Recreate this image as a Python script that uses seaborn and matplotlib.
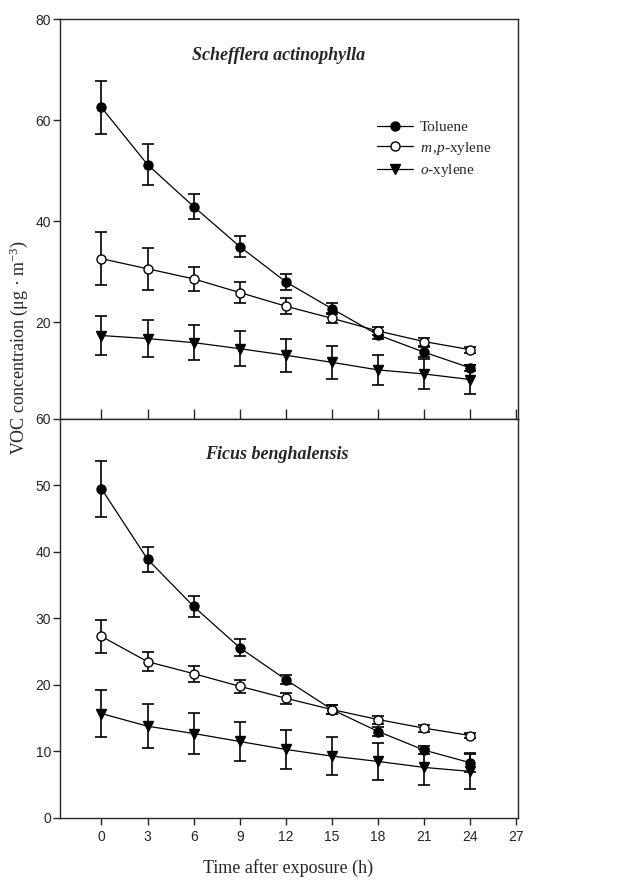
import numpy as np
import pandas as pd
import matplotlib
matplotlib.use("Agg")
import matplotlib.pyplot as plt
import seaborn as sns

# ---- data ----
hours = [0, 3, 6, 9, 12, 15, 18, 21, 24]

# Schefflera actinophylla (top panel)
sa_toluene = [62.5, 51.2, 42.9, 35.0, 28.0, 22.7, 17.5, 14.1, 11.0]
sa_toluene_err = [5.3, 4.1, 2.5, 2.0, 1.6, 1.1, 0.8, 1.0, 0.6]
sa_mp = [32.6, 30.6, 28.6, 25.9, 23.2, 20.8, 18.3, 16.2, 14.6]
sa_mp_err = [5.3, 4.1, 2.4, 2.0, 1.6, 1.0, 0.8, 0.8, 0.6]
sa_o = [17.4, 16.8, 16.0, 14.8, 13.5, 12.1, 10.6, 9.8, 8.7]
sa_o_err = [3.8, 3.6, 3.5, 3.4, 3.3, 3.2, 3.0, 2.9, 2.8]

# Ficus benghalensis (bottom panel)
fb_toluene = [49.5, 38.9, 31.8, 25.6, 20.8, 16.3, 13.0, 10.2, 8.3]
fb_toluene_err = [4.2, 1.9, 1.6, 1.3, 0.7, 0.7, 0.7, 0.6, 1.4]
fb_mp = [27.3, 23.5, 21.7, 19.8, 18.0, 16.3, 14.8, 13.5, 12.4]
fb_mp_err = [2.5, 1.4, 1.2, 1.0, 0.8, 0.7, 0.6, 0.5, 0.4]
fb_o = [15.7, 13.8, 12.7, 11.5, 10.3, 9.3, 8.5, 7.6, 7.0]
fb_o_err = [3.6, 3.3, 3.1, 3.0, 3.0, 2.9, 2.8, 2.7, 2.6]

species = ["Schefflera actinophylla", "Ficus benghalensis"]
compounds = ["Toluene", "$\\it{m}\\,$,$\\it{p}$-xylene", "$\\it{o}$-xylene"]

sns.set_style("ticks")
plt.rcParams["font.family"] = ["Liberation Sans", "DejaVu Sans"]
plt.rcParams["mathtext.fontset"] = "custom"
plt.rcParams["mathtext.rm"] = "Liberation Serif"
plt.rcParams["mathtext.it"] = "Liberation Serif:italic"

fig = plt.figure(figsize=(6.34, 8.8), dpi=100)
ax_top = fig.add_axes([0.0946, 0.5239, 0.7224, 0.4545])
ax_bot = fig.add_axes([0.0946, 0.0705, 0.7224, 0.4534])

styles = [
    dict(marker="o", markerfacecolor="black"),
    dict(marker="o", markerfacecolor="white"),
    dict(marker="v", markerfacecolor="black"),
]

panels = [
    (ax_top, [(sa_toluene, sa_toluene_err), (sa_mp, sa_mp_err), (sa_o, sa_o_err)]),
    (ax_bot, [(fb_toluene, fb_toluene_err), (fb_mp, fb_mp_err), (fb_o, fb_o_err)]),
]
title_x = [0.478, 0.473]

for (ax, series), title, tx in zip(panels, species, title_x):
    for (vals, errs), name, st in zip(series, compounds, styles):
        df = pd.DataFrame({"h": hours, "v": vals})
        ax.errorbar(df["h"], df["v"], yerr=errs, fmt="none", ecolor="black",
                    elinewidth=1.2, capsize=4, capthick=1.2, zorder=2)
        sns.lineplot(data=df, x="h", y="v", ax=ax, color="black", linewidth=0.9,
                     marker=st["marker"], markersize=6.5,
                     markerfacecolor=st["markerfacecolor"],
                     markeredgecolor="black", markeredgewidth=1.0,
                     label=name, zorder=3, legend=False)
    ax.text(tx, 0.91, title, transform=ax.transAxes, ha="center", va="center",
            family="Liberation Serif", fontstyle="italic", fontweight="bold",
            fontsize=13)
    ax.set_xlim(-2.7, 27.1)
    ax.set_xticks([0, 3, 6, 9, 12, 15, 18, 21, 24, 27])
    ax.set_xlabel("")
    ax.set_ylabel("")
    for sp in ax.spines.values():
        sp.set_linewidth(1.0)
        sp.set_visible(True)
    ax.tick_params(labelsize=10, length=5, width=1.0)
    ax.tick_params(axis="y", pad=1.5)

ax_top.set_ylim(0.9, 80)
ax_top.set_yticks([20, 40, 60, 80])
ax_top.tick_params(axis="x", direction="in", labelbottom=False, length=7)
ax_bot.set_ylim(0, 60)
ax_bot.set_yticks([0, 10, 20, 30, 40, 50, 60])

leg = ax_top.legend(loc="upper left", bbox_to_anchor=(0.663, 0.78), frameon=False,
                    handlelength=2.3, handletextpad=0.5, labelspacing=0.35,
                    prop={"family": "Liberation Serif", "size": 11})

fig.text(0.455, 0.014, "Time after exposure (h)", ha="center", va="center",
         family="Liberation Serif", fontsize=13)
fig.text(0.03, 0.605, "VOC concentraion (\u03bcg \u00b7 m$^{-3}$)", rotation=90,
         ha="center", va="center", family="Liberation Serif", fontsize=13)

fig.savefig("out.png", dpi=100)
plt.close("all")
